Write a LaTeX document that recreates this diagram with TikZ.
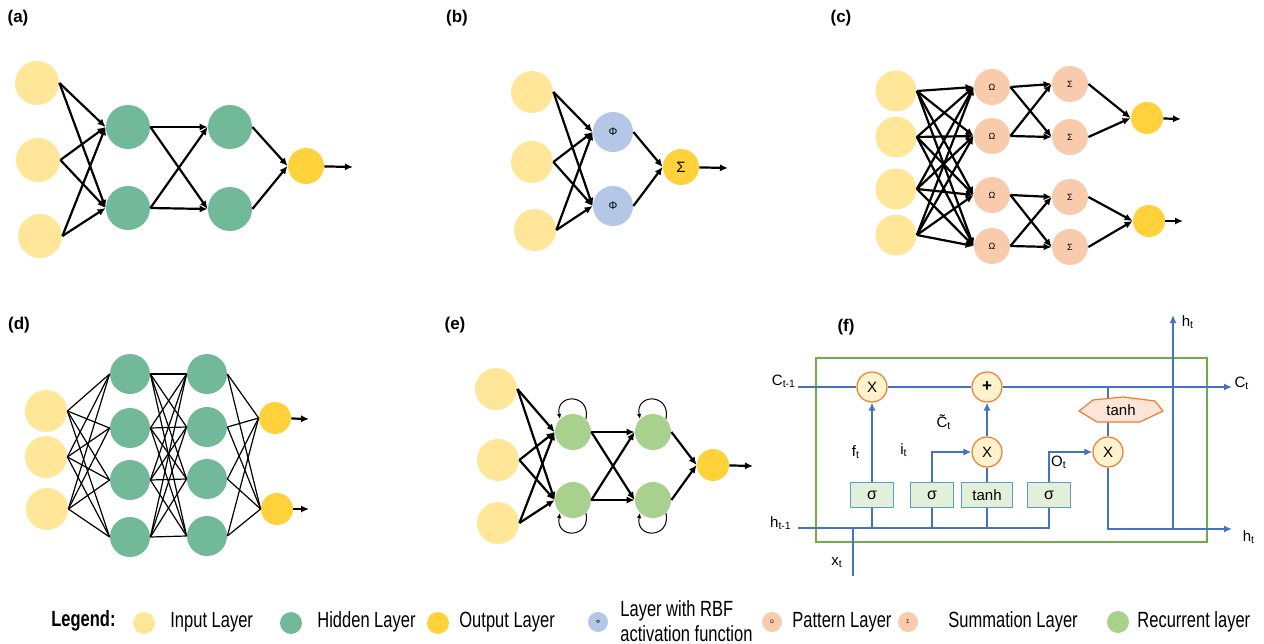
\documentclass[tikz,border=0pt]{standalone}
\usepackage{fontspec}
\setmainfont{Liberation Sans}
\newfontfamily\legendfont{Liberation Sans}[FakeStretch=0.75]
\usetikzlibrary{arrows.meta}
\definecolor{inyel}{HTML}{FFE699}
\definecolor{hidgrn}{HTML}{72B99A}
\definecolor{outyel}{HTML}{FFD23C}
\definecolor{rbfblue}{HTML}{B4C7E7}
\definecolor{patorg}{HTML}{F8CBAD}
\definecolor{recgrn}{HTML}{A9D18E}
\definecolor{lstmblue}{HTML}{4472C4}
\definecolor{lstmorg}{HTML}{ED7D31}
\definecolor{opfill}{HTML}{FFF2CC}
\definecolor{boxfill}{HTML}{E2F0D9}
\definecolor{boxline}{HTML}{5B9BD5}
\definecolor{cellgrn}{HTML}{70AD47}
\definecolor{tanhfill}{HTML}{FBE5D6}
\begin{document}
\begin{tikzpicture}[x=0.5pt,y=-0.5pt,>={Latex[length=4pt,width=3.6pt]},
  font=\fontsize{7.5}{8.5}\selectfont,
  panel/.style={font=\bfseries\fontsize{8.5}{10}\selectfont},
  neuron/.style={circle,inner sep=0pt,minimum size=#1},
  innode/.style={neuron=#1,fill=inyel},
  hidnode/.style={neuron=#1,fill=hidgrn},
  outnode/.style={neuron=#1,fill=outyel},
  rbfnode/.style={neuron=#1,fill=rbfblue},
  patnode/.style={neuron=#1,fill=patorg},
  recnode/.style={neuron=#1,fill=recgrn},
  arr/.style={->,line width=1.1pt},
  thinline/.style={line width=0.6pt},
  loopline/.style={line width=0.5pt,-{Latex[length=2.5pt,width=2.2pt]}},
  lstmline/.style={draw=lstmblue,line width=1.4pt},
  opnode/.style={circle,inner sep=0pt,minimum size=15pt,fill=opfill,draw=lstmorg,line width=0.6pt},
  gatebox/.style={rectangle,inner sep=0pt,minimum width=21.5pt,minimum height=12.5pt,fill=boxfill,draw=boxline,line width=0.6pt},
  hexa/.style={fill=tanhfill,draw=lstmorg,line width=0.6pt},
  legtext/.style={anchor=west,inner sep=0pt,font=\legendfont\fontsize{11}{12.5}\selectfont}]
\useasboundingbox (0,0) rectangle (1264,643);

% (a)
\node[panel] (la) at (18,18) {(a)};
\node[innode=22pt] (a-i1) at (37,83) {};
\node[innode=22pt] (a-i2) at (38,160) {};
\node[innode=22pt] (a-i3) at (40,236) {};
\node[hidnode=22pt] (a-h1) at (128,127) {};
\node[hidnode=22pt] (a-h2) at (128,208) {};
\node[hidnode=22pt] (a-g1) at (230,127) {};
\node[hidnode=22pt] (a-g2) at (230,209) {};
\node[outnode=18pt] (a-o) at (306,166) {};
\coordinate (a-end) at (353,167);
\foreach \i in {1,2,3} \foreach \j in {1,2} \draw[arr] (a-i\i.east) -- (a-h\j.west);
\foreach \i in {1,2} \foreach \j in {1,2} \draw[arr] (a-h\i.east) -- (a-g\j.west);
\foreach \i in {1,2} \draw[arr] (a-g\i.east) -- (a-o.west);
\draw[arr] (a-o) -- (a-end);

% (b)
\node[panel] (lb) at (457,18) {(b)};
\node[innode=21pt] (b-i1) at (532,92) {};
\node[innode=21pt] (b-i2) at (532,162) {};
\node[innode=21pt] (b-i3) at (535,230) {};
\node[rbfnode=20pt,font=\fontsize{5.5}{6}\selectfont] (b-p1) at (613,132) {Φ};
\node[rbfnode=20pt,font=\fontsize{5.5}{6}\selectfont] (b-p2) at (613,206) {Φ};
\node[outnode=18pt] (b-o) at (681,167) {Σ};
\coordinate (b-end) at (728,168);
\foreach \i in {1,2,3} \foreach \j in {1,2} \draw[arr] (b-i\i.east) -- (b-p\j.west);
\foreach \i in {1,2} \draw[arr] (b-p\i.east) -- (b-o.west);
\draw[arr] (b-o) -- (b-end);

% (c)
\node[panel] (lc) at (841,18) {(c)};
\foreach \i/\y in {1/91,2/137,3/189,4/235} \node[innode=20.5pt] (c-i\i) at (896,\y) {};
\foreach \i/\y in {1/87,2/136,3/195,4/246} \node[patnode=18pt,font=\fontsize{4.5}{5}\selectfont] (c-p\i) at (992,\y) {Ω};
\foreach \i/\y in {1/84,2/137,3/197,4/247} \node[patnode=18pt,font=\fontsize{4.5}{5}\selectfont] (c-s\i) at (1070,\y) {Σ};
\node[outnode=16pt] (c-o1) at (1147,118) {};
\node[outnode=16pt] (c-o2) at (1149,221) {};
\coordinate (c-e1) at (1181,119);
\coordinate (c-e2) at (1183,221);
\foreach \i in {1,...,4} \foreach \j in {1,...,4} \draw[arr] (c-i\i.east) -- (c-p\j.west);
\foreach \i in {1,2} \foreach \j in {1,2} \draw[arr] (c-p\i.east) -- (c-s\j.west);
\foreach \i in {3,4} \foreach \j in {3,4} \draw[arr] (c-p\i.east) -- (c-s\j.west);
\foreach \i in {1,2} \draw[arr] (c-s\i.east) -- (c-o1.west);
\foreach \i in {3,4} \draw[arr] (c-s\i.east) -- (c-o2.west);
\draw[arr] (c-o1) -- (c-e1);
\draw[arr] (c-o2) -- (c-e2);

% (d)
\node[panel] (ld) at (19,325) {(d)};
\node[innode=21pt] (d-i1) at (46,411) {};
\node[innode=21pt] (d-i2) at (46,457) {};
\node[innode=21pt] (d-i3) at (47,509) {};
\foreach \i/\y in {1/374,2/428,3/480,4/537} \node[hidnode=20pt] (d-h\i) at (130,\y) {};
\foreach \i/\y in {1/374,2/427,3/479,4/536} \node[hidnode=20pt] (d-g\i) at (207,\y) {};
\node[outnode=16pt] (d-o1) at (275,418) {};
\node[outnode=16pt] (d-o2) at (277,509) {};
\coordinate (d-e1) at (309,419);
\coordinate (d-e2) at (309,509);
\foreach \i in {1,2,3} \foreach \j in {1,...,4} \draw[thinline] (d-i\i.east) -- (d-h\j.west);
\foreach \i in {1,...,4} \foreach \j in {1,...,4} \draw[thinline] (d-h\i.east) -- (d-g\j.west);
\foreach \i in {1,...,4} \foreach \j in {1,2} \draw[thinline] (d-g\i.east) -- (d-o\j.west);
\draw[arr] (d-o1) -- (d-e1);
\draw[arr] (d-o2) -- (d-e2);

% (e)
\node[panel] (le) at (455,325) {(e)};
\node[innode=21pt] (e-i1) at (496,389) {};
\node[innode=21pt] (e-i2) at (498,460) {};
\node[innode=21pt] (e-i3) at (498,523) {};
\node[recnode=18pt] (e-r1) at (573,432) {};
\node[recnode=18pt] (e-r2) at (573,500) {};
\node[recnode=18pt] (e-q1) at (653,432) {};
\node[recnode=18pt] (e-q2) at (653,500) {};
\node[outnode=16pt] (e-o) at (713,465) {};
\coordinate (e-end) at (753,466);
\foreach \i in {1,2,3} \foreach \j in {1,2} \draw[arr] (e-i\i.east) -- (e-r\j.west);
\foreach \i in {1,2} \foreach \j in {1,2} \draw[arr] (e-r\i.east) -- (e-q\j.west);
\foreach \i in {1,2} \draw[arr] (e-q\i.east) -- (e-o.west);
\draw[arr] (e-o) -- (e-end);
\foreach \n in {r1,q1} \draw[loopline] (e-\n.45) .. controls +(5,-26) and +(-5,-26) .. (e-\n.135);
\foreach \n in {r2,q2} \draw[loopline] (e-\n.-45) .. controls +(5,26) and +(-5,26) .. (e-\n.-135);

% (f)
\node[panel] (lf) at (846,327) {(f)};
\draw[cellgrn,line width=0.6pt] (816,358) rectangle (1207,542);
\coordinate (cin) at (798,387);
\coordinate (cout) at (1232,387);
\coordinate (hin) at (798,528);
\coordinate (hout) at (1232,529);
\coordinate (htop) at (1173,315);
\coordinate (xin) at (853,576);
\node[opnode] (mx1) at (872,387) {X};
\node[opnode,font=\bfseries\fontsize{8.5}{9}\selectfont] (pl) at (987,387) {+};
\node[opnode] (mx2) at (987,452) {X};
\node[opnode] (mx3) at (1108,452) {X};
\node[gatebox,font=\fontsize{8}{9}\selectfont] (sg1) at (872,495) {σ};
\node[gatebox,font=\fontsize{8}{9}\selectfont] (sg2) at (932,495) {σ};
\node[gatebox,minimum width=25.5pt] (tb) at (987,495) {tanh};
\node[gatebox,font=\fontsize{8}{9}\selectfont] (sg3) at (1049,495) {σ};
\draw[lstmline] (cin) -- (mx1) -- (pl);
\draw[lstmline,->] (pl) -- (cout);
\draw[lstmline] (hin) -| (sg3);
\draw[lstmline] (sg1) -- (sg1 |- hin);
\draw[lstmline] (sg2) -- (sg2 |- hin);
\draw[lstmline] (tb) -- (tb |- hin);
\draw[lstmline,->] (sg1) -- (mx1);
\draw[lstmline,->] (sg2) |- (mx2);
\draw[lstmline] (tb) -- (mx2);
\draw[lstmline,->] (mx2) -- (pl);
\draw[lstmline,->] (sg3) |- (mx3);
\draw[lstmline] (mx3 |- cin) -- (mx3);
\draw[hexa] (1079,411) -- (1093,400) -- (1123,397) -- (1155,401) -- (1163,411) -- (1140,422) -- (1097,422) -- cycle;
\node (th) at (1121,410) {tanh};
\draw[lstmline,->] (mx3) |- (hout);
\draw[lstmline,->] (htop |- hout) -- (htop);
\draw[lstmline,line width=0.6pt] (xin) -- (xin |- hin);
\node (lc0) at (784,381) {C\textsubscript{t-1}};
\node (lc1) at (1242,383) {C\textsubscript{t}};
\node (lh0) at (781,523) {h\textsubscript{t-1}};
\node (lh1) at (1249,537) {h\textsubscript{t}};
\node (lh2) at (1188,322) {h\textsubscript{t}};
\node (lx) at (837,563) {x\textsubscript{t}};
\node (lft) at (856,452) {f\textsubscript{t}};
\node (lit) at (904,450) {i\textsubscript{t}};
\node (lct) at (944,422) {\~{C}\textsubscript{t}};
\node (lot) at (1059,462) {O\textsubscript{t}};

% legend
\node[legtext,font=\legendfont\bfseries\fontsize{11}{12.5}\selectfont] (lg) at (51,621) {Legend:};
\node[innode=11pt] (lg-in) at (144,623) {};
\node[legtext] (lt-in) at (170,622) {Input Layer};
\node[hidnode=11pt] (lg-hid) at (291,623) {};
\node[legtext] (lt-hid) at (317,622) {Hidden Layer};
\node[outnode=11pt] (lg-out) at (438,623) {};
\node[legtext] (lt-out) at (459,622) {Output Layer};
\node[rbfnode=10pt,font=\fontsize{2.5}{3}\selectfont] (lg-rbf) at (598,622) {Φ};
\node[legtext,align=left] (lt-rbf) at (620,621) {Layer with RBF\\activation function};
\node[patnode=10pt,font=\fontsize{2.5}{3}\selectfont] (lg-pat) at (772,622) {Ω};
\node[legtext] (lt-pat) at (792,622) {Pattern Layer};
\node[patnode=10pt,font=\fontsize{2.5}{3}\selectfont] (lg-sum) at (908,622) {Σ};
\node[legtext] (lt-sum) at (948,622) {Summation Layer};
\node[recnode=11pt] (lg-rec) at (1118,622) {};
\node[legtext] (lt-rec) at (1137,622) {Recurrent layer};
\end{tikzpicture}
\end{document}
